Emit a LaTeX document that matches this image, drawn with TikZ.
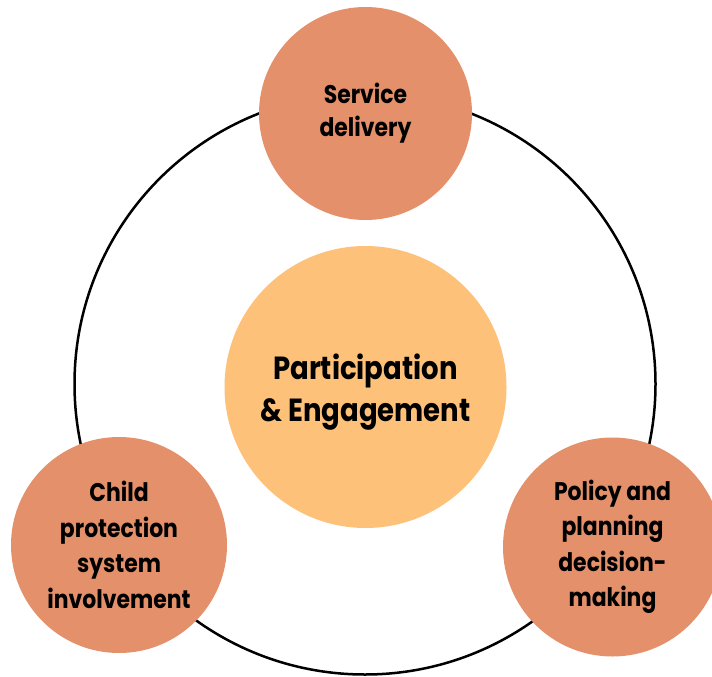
\documentclass[tikz,border=0pt]{standalone}
\usepackage{fontspec}
\setmainfont{Poppins Bold}[FakeStretch=0.86]
\definecolor{salmon}{HTML}{E3906B}
\definecolor{apricot}{HTML}{FDC17A}
\tikzset{
  ring/.style={circle, draw=black, line width=2.5pt, inner sep=0pt},
  petal/.style={circle, fill=salmon, inner sep=0pt, align=center,
    font=\fontsize{25.5}{35.5}\selectfont},
  hub/.style={circle, fill=apricot, inner sep=0pt, minimum size=282pt},
  hubtext/.style={align=center, inner sep=0pt, font=\fontsize{32}{42}\selectfont}
}
\begin{document}
\begin{tikzpicture}[x=1pt,y=-1pt]
\useasboundingbox (0,0) rectangle (712,677);
\node[ring, minimum size=581pt] (ring) at (365,384) {};
\node[hub] (hub) at (365.5,387) {};
\node[hubtext] (hubtext) at (365.5,392) {Participation\\ \& Engagement};
\node[petal, minimum size=213pt, font=\fontsize{25.5}{33}\selectfont] (service) at (365.5,113.5) {Service\\ delivery};
\node[petal, minimum size=216pt] (child) at (119,545) {Child\\ protection\\ system\\ involvement};
\node[petal, minimum size=219pt] (policy) at (612.5,547) {Policy and\\ planning\\ decision-\\ making};
\end{tikzpicture}
\end{document}
